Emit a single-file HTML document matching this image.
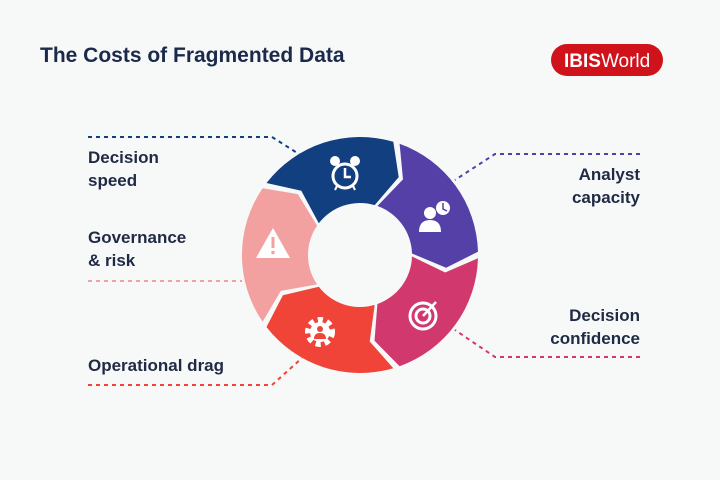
<!DOCTYPE html>
<html><head><meta charset="utf-8"><style>
body{margin:0;width:720px;height:480px;background:#f7f8f8;overflow:hidden;font-family:"Liberation Sans",sans-serif}
</style></head><body>
<svg id="s" width="720" height="480" xmlns="http://www.w3.org/2000/svg" style="position:absolute;left:0;top:0">
<rect width="720" height="480" fill="#f7f8f8"/>
<text x="40" y="62" font-size="21" font-weight="bold" fill="#1b2a4a" font-family="Liberation Sans">The Costs of Fragmented Data</text>
<rect x="551" y="44" width="112" height="32" rx="16" fill="#d0121b"/>
<text x="564" y="67" font-size="19" fill="#fff" font-family="Liberation Sans"><tspan font-weight="bold">IBIS</tspan>World</text>
<g stroke-width="2" stroke-dasharray="4 4" fill="none">
<polyline points="88,137 272,137 302,156" stroke="#123f80"/>
<polyline points="640,154 495,154 455,180" stroke="#5540a8"/>
<polyline points="88,281 242,281" stroke="#f2a0a0"/>
<polyline points="640,357 495,357 455,330" stroke="#d1386e"/>
<polyline points="88,385 272,385 302,358" stroke="#f04438"/>
</g>
<g font-size="17" font-weight="bold" fill="#1f2a44" font-family="Liberation Sans">
<text x="88" y="163">Decision</text><text x="88" y="186">speed</text>
<text x="640" y="180" text-anchor="end">Analyst</text><text x="640" y="203" text-anchor="end">capacity</text>
<text x="88" y="243">Governance</text><text x="88" y="266">&amp; risk</text>
<text x="640" y="321" text-anchor="end">Decision</text><text x="640" y="344" text-anchor="end">confidence</text>
<text x="88" y="371">Operational drag</text>
</g>
<g id="ring"></g>
<g fill="#fff">
<circle cx="345" cy="176" r="12" fill="none" stroke="#fff" stroke-width="3"/>
<circle cx="335" cy="161" r="5"/><circle cx="355" cy="161" r="5"/>
<polyline points="345,168 345,177 351,177" fill="none" stroke="#fff" stroke-width="2.5"/>
<line x1="337" y1="186" x2="335" y2="190" stroke="#fff" stroke-width="2"/><line x1="353" y1="186" x2="355" y2="190" stroke="#fff" stroke-width="2"/>
<circle cx="430" cy="213" r="6"/><path d="M419 232 q0-12 11-12 q11 0 11 12z"/>
<circle cx="443" cy="208" r="7" fill="#fff"/><polyline points="443,203 443,209 447,211" fill="none" stroke="#5540a8" stroke-width="1.5"/>
<path d="M273 228 L290 258 L256 258Z"/><rect x="271.5" y="237" width="3" height="11" fill="#f2a0a0"/><circle cx="273" cy="252.5" r="1.8" fill="#f2a0a0"/>
<circle cx="423" cy="316" r="13" fill="none" stroke="#fff" stroke-width="3"/>
<circle cx="423" cy="316" r="7" fill="none" stroke="#fff" stroke-width="3"/>
<line x1="423" y1="316" x2="436" y2="302" stroke="#fff" stroke-width="2.5"/>
<circle cx="320" cy="332" r="12" fill="none" stroke="#fff" stroke-width="6" stroke-dasharray="5 4"/>
<circle cx="320" cy="332" r="10"/>
<circle cx="320" cy="329" r="3" fill="#f04438"/><path d="M314 339 q0-6 6-6 q6 0 6 6z" fill="#f04438"/>
</g>
</svg>
<script>
(function(){
var cx=360,cy=255,R=118,ri=52,rm=87,d=10,g=1.6;
function p(a,r){a=a*Math.PI/180;return (cx+r*Math.sin(a)).toFixed(1)+","+(cy-r*Math.cos(a)).toFixed(1);}
var cols=["#123f80","#5540a8","#d1386e","#f04438","#f2a0a0"];
var html="";
for(var i=0;i<5;i++){
var s=306+72*i,e=s+72;
var dd="M"+p(s+g,R)+" A"+R+","+R+" 0 0 1 "+p(e-g,R)+" L"+p(e+d-g,rm)+" L"+p(e-g,ri)+
" A"+ri+","+ri+" 0 0 0 "+p(s+g,ri)+" L"+p(s+d+g,rm)+" Z";
html+='<path d="'+dd+'" fill="'+cols[i]+'"/>';
}
document.getElementById("ring").innerHTML=html;
})();
</script>
</body></html>
